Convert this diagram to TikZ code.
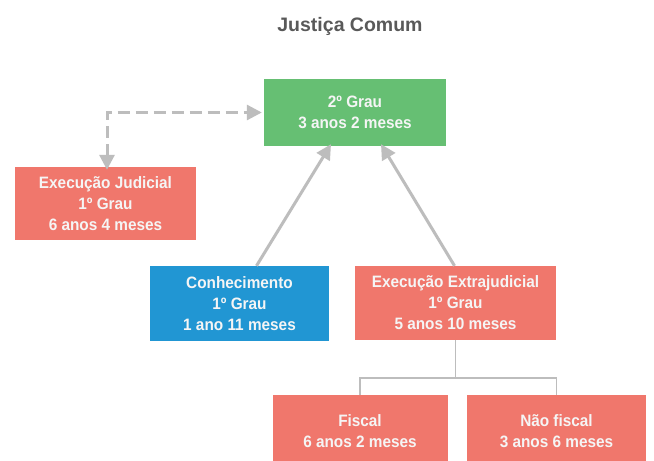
\documentclass[tikz,border=0pt]{standalone}
\usepackage{fontspec}
\setmainfont{Liberation Sans}
\newfontfamily\boxfont{Liberation Sans Bold}[FakeStretch=0.93]
\usetikzlibrary{arrows.meta,calc}
\definecolor{grn}{HTML}{66BF73}
\definecolor{rd}{HTML}{F0776C}
\definecolor{bl}{HTML}{2196D3}
\definecolor{ttl}{HTML}{595959}
\definecolor{ln}{HTML}{BDBDBD}
\begin{document}
\begin{tikzpicture}[x=1pt,y=-1pt,
  box/.style={draw=none,inner sep=0pt,align=center,text=white!96!black,
    font=\boxfont\fontsize{16.5}{21}\selectfont},
  arr/.style={draw=ln,line width=3pt,-{Triangle[length=15pt,width=15pt]}},
  dsh/.style={draw=ln,line width=3pt,dash pattern=on 12pt off 6pt,
    {Triangle[length=15pt,width=15pt]}-{Triangle[length=15pt,width=15pt]}},
  tree/.style={draw=ln,line width=1.3pt}]
\useasboundingbox (0,0) rectangle (654,461);
\clip (0,0) rectangle (654,461);
\fill[white] (0,0) rectangle (654,461);
\node[font=\fontsize{19.5}{23}\selectfont\bfseries,text=ttl] (title) at (350,26) {Justiça Comum};
\node[box,fill=grn,minimum width=182pt,minimum height=67pt] (g2) at (355,112.5) {2º Grau\\3 anos 2 meses};
\node[box,fill=rd,minimum width=181pt,minimum height=73pt] (jud) at (105.5,203.5) {Execução Judicial\\1º Grau\\6 anos 4 meses};
\node[box,fill=bl,minimum width=179pt,minimum height=75pt] (conh) at (239.5,303.5) {Conhecimento\\1º Grau\\1 ano 11 meses};
\node[box,fill=rd,minimum width=201pt,minimum height=74pt] (extra) at (455.5,303) {Execução Extrajudicial\\1º Grau\\5 anos 10 meses};
\node[box,fill=rd,minimum width=175pt,minimum height=76pt] (fis) at (360,433) {};
\node[box,fill=rd,minimum width=179pt,minimum height=76pt] (nfis) at (556.5,433) {};
\node[box,anchor=north] (fist) at (360,414) {Fiscal\\6 anos 2 meses};
\node[box,anchor=north] (nfist) at (556.5,414) {Não fiscal\\3 anos 6 meses};
\draw[arr] ([xshift=17pt]conh.north) -- ([xshift=-24pt,yshift=2pt]g2.south);
\draw[arr] ([xshift=-1pt]extra.north) -- ([xshift=26pt,yshift=2pt]g2.south);
\draw[dsh] ([xshift=1.5pt,yshift=-3pt]jud.north) |- ([xshift=-2pt]g2.west);
\coordinate (mid) at (455.5,378);
\draw[tree] (extra.south) -- (mid);
\draw[tree] (fis.north) |- (mid) -| (nfis.north);
\end{tikzpicture}
\end{document}
